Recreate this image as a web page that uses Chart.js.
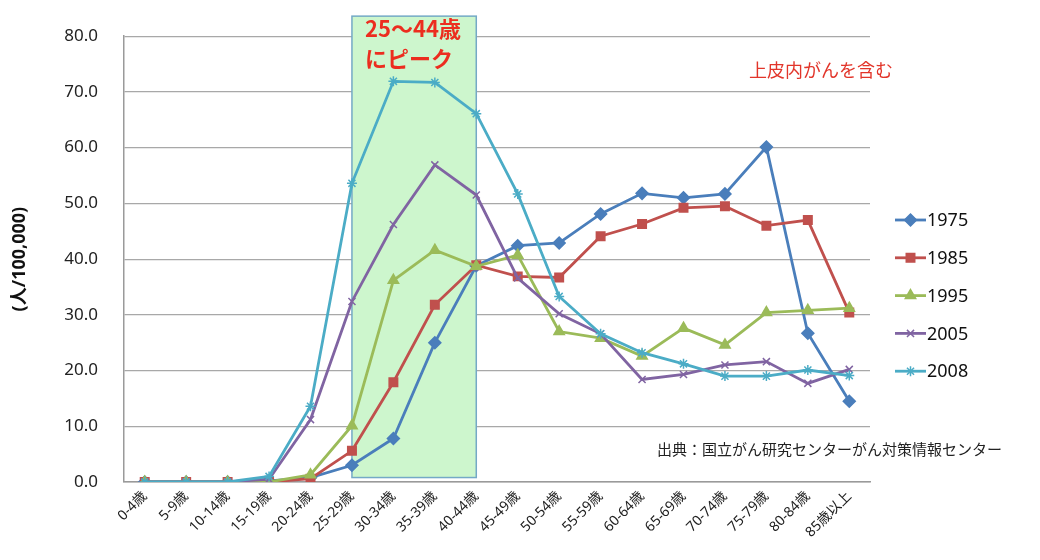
<!DOCTYPE html>
<html lang="ja">
<head>
<meta charset="utf-8">
<style>
  html, body { margin: 0; padding: 0; background: #fff; }
  #wrap { width: 1040px; height: 560px; }
</style>
<script src="https://cdn.jsdelivr.net/npm/chart.js"></script>
</head>
<body>
<div id="wrap"><canvas id="chart" width="1040" height="560"></canvas></div>
<script>
// 年齢階級
const ageGroups = ['0-4歳', '5-9歳', '10-14歳', '15-19歳', '20-24歳', '25-29歳', '30-34歳', '35-39歳', '40-44歳',
    '45-49歳', '50-54歳', '55-59歳', '60-64歳', '65-69歳', '70-74歳', '75-79歳', '80-84歳', '85歳以上'];

// 罹患率 (人/100,000)
const rate1975 = [0, 0, 0, 0.2, 0.8, 3.0, 7.8, 25.0, 38.8, 42.4, 42.9, 48.1, 51.8, 51.0, 51.7, 60.1, 26.7, 14.5];
const rate1985 = [0, 0, 0, 0, 0.6, 5.6, 17.9, 31.8, 38.9, 36.9, 36.7, 44.1, 46.3, 49.2, 49.5, 46.0, 47.0, 30.4];
const rate1995 = [0, 0, 0, 0, 1.3, 10.1, 36.2, 41.6, 38.7, 40.7, 27.0, 25.8, 22.6, 27.6, 24.6, 30.4, 30.8, 31.2];
const rate2005 = [0, 0, 0, 0.5, 11.2, 32.4, 46.2, 56.9, 51.5, 36.6, 30.2, 26.6, 18.4, 19.3, 21.0, 21.6, 17.7, 20.2];
const rate2008 = [0, 0, 0, 1.0, 13.6, 53.6, 71.9, 71.7, 66.1, 51.7, 33.3, 26.6, 23.2, 21.2, 19.0, 19.0, 20.1, 19.1];

const seriesNames = ['1975', '1985', '1995', '2005', '2008'];
const seriesValues = [rate1975, rate1985, rate1995, rate2005, rate2008];

const yMin = 0;
const yMax = 80;
const yStep = 10;

const peakLabel = ['25～44歳', 'にピーク'];
const noteLabel = '上皮内がんを含む';
const sourceLabel = '出典：国立がん研究センターがん対策情報センター';

const fontFamily = "'Noto Sans', 'Noto Sans CJK JP', sans-serif";
const jpFont = "'Noto Sans CJK JP', sans-serif";

const colors = ['#4a7ebb', '#c0504d', '#9bbb59', '#8064a2', '#4bacc6'];
const markers = ['rectRot', 'rect', 'triangle', 'crossRot', 'star'];
const markerSizes = [6, 6, 6, 5, 5];

const datasets = seriesNames.map(function(name, i) {
    return {
        label: name,
        data: seriesValues[i],
        borderColor: colors[i],
        backgroundColor: colors[i],
        borderWidth: 2.8,
        tension: 0,
        pointStyle: markers[i],
        pointRadius: markerSizes[i],
        pointBorderWidth: 1.5,
        pointBackgroundColor: colors[i],
        pointBorderColor: colors[i],
        order: seriesNames.length - i
    };
});

// 25~44歳の強調枠 (グリッドの上、線の下)
const peakBox = {
    id: 'peakBox',
    beforeDatasetsDraw(chart) {
        const {ctx, scales: {x, y}} = chart;
        const left = x.getPixelForValue(5);
        const right = x.getPixelForValue(8);
        const top = y.getPixelForValue(83.6);
        const bottom = y.getPixelForValue(0.8);
        ctx.save();
        ctx.fillStyle = '#cdf6cd';
        ctx.fillRect(left, top, right - left, bottom - top);
        ctx.strokeStyle = '#74a9c6';
        ctx.lineWidth = 1.5;
        ctx.strokeRect(left, top, right - left, bottom - top);
        ctx.restore();
    }
};

function drawMarker(ctx, style, radius, x, y, color) {
    if (Chart.helpers && Chart.helpers.drawPoint) {
        ctx.fillStyle = color;
        ctx.strokeStyle = color;
        ctx.lineWidth = 1.5;
        Chart.helpers.drawPoint(ctx, {pointStyle: style, radius: radius, rotation: 0, borderWidth: 1.5}, x, y);
    }
}

// 凡例と注記
const notes = {
    id: 'notes',
    afterDraw(chart) {
        const ctx = chart.ctx;
        ctx.save();

        chart.data.datasets.forEach(function(ds, i) {
            const ly = 220 + i * 37.8;
            ctx.strokeStyle = ds.borderColor;
            ctx.lineWidth = 2.8;
            ctx.beginPath();
            ctx.moveTo(895, ly);
            ctx.lineTo(926, ly);
            ctx.stroke();
            drawMarker(ctx, ds.pointStyle, ds.pointRadius, 910.5, ly, ds.borderColor);
            ctx.fillStyle = '#111';
            ctx.font = '18px ' + fontFamily;
            ctx.textAlign = 'left';
            ctx.textBaseline = 'middle';
            ctx.fillText(ds.label, 927, ly + 1);
        });

        ctx.fillStyle = '#ec2d1f';
        ctx.font = 'bold 22px ' + jpFont;
        ctx.textAlign = 'left';
        ctx.textBaseline = 'middle';
        ctx.fillText(peakLabel[0], 365, 29);
        ctx.fillText(peakLabel[1], 365, 59);

        ctx.fillStyle = '#e2352a';
        ctx.font = '18px ' + jpFont;
        ctx.fillText(noteLabel, 749, 70);

        ctx.fillStyle = '#222';
        ctx.font = '15px ' + jpFont;
        ctx.fillText(sourceLabel, 657, 449);

        ctx.restore();
    }
};

new Chart(document.getElementById('chart').getContext('2d'), {
    type: 'line',
    data: {
        labels: ageGroups,
        datasets: datasets
    },
    options: {
        responsive: false,
        animation: false,
        layout: {
            padding: {top: 33, right: 170, bottom: 0, left: 0}
        },
        scales: {
            x: {
                offset: true,
                grid: {
                    display: false,
                    drawTicks: false
                },
                border: {
                    display: true,
                    color: '#9a9a9a',
                    width: 1.5
                },
                ticks: {
                    autoSkip: false,
                    minRotation: 45,
                    maxRotation: 45,
                    padding: 6,
                    color: '#222',
                    font: {family: fontFamily, size: 14}
                },
                afterFit(scale) {
                    scale.height = 78;
                }
            },
            y: {
                min: yMin,
                max: yMax,
                grid: {
                    color: '#a8a8a8',
                    lineWidth: 1.2,
                    drawTicks: false
                },
                border: {
                    display: true,
                    color: '#9a9a9a',
                    width: 1.5
                },
                ticks: {
                    stepSize: yStep,
                    padding: 26,
                    color: '#222',
                    font: {family: fontFamily, size: 17},
                    callback: function(value) {
                        return value.toFixed(1);
                    }
                },
                title: {
                    display: true,
                    text: '(人/100,000)',
                    color: '#111',
                    padding: {top: 9, bottom: 0},
                    font: {family: fontFamily, size: 18, weight: 'bold'}
                },
                afterFit(scale) {
                    scale.width = 124;
                }
            }
        },
        plugins: {
            legend: {
                display: false
            },
            tooltip: {
                enabled: false
            }
        }
    },
    plugins: [peakBox, notes]
});
</script>
</body>
</html>
